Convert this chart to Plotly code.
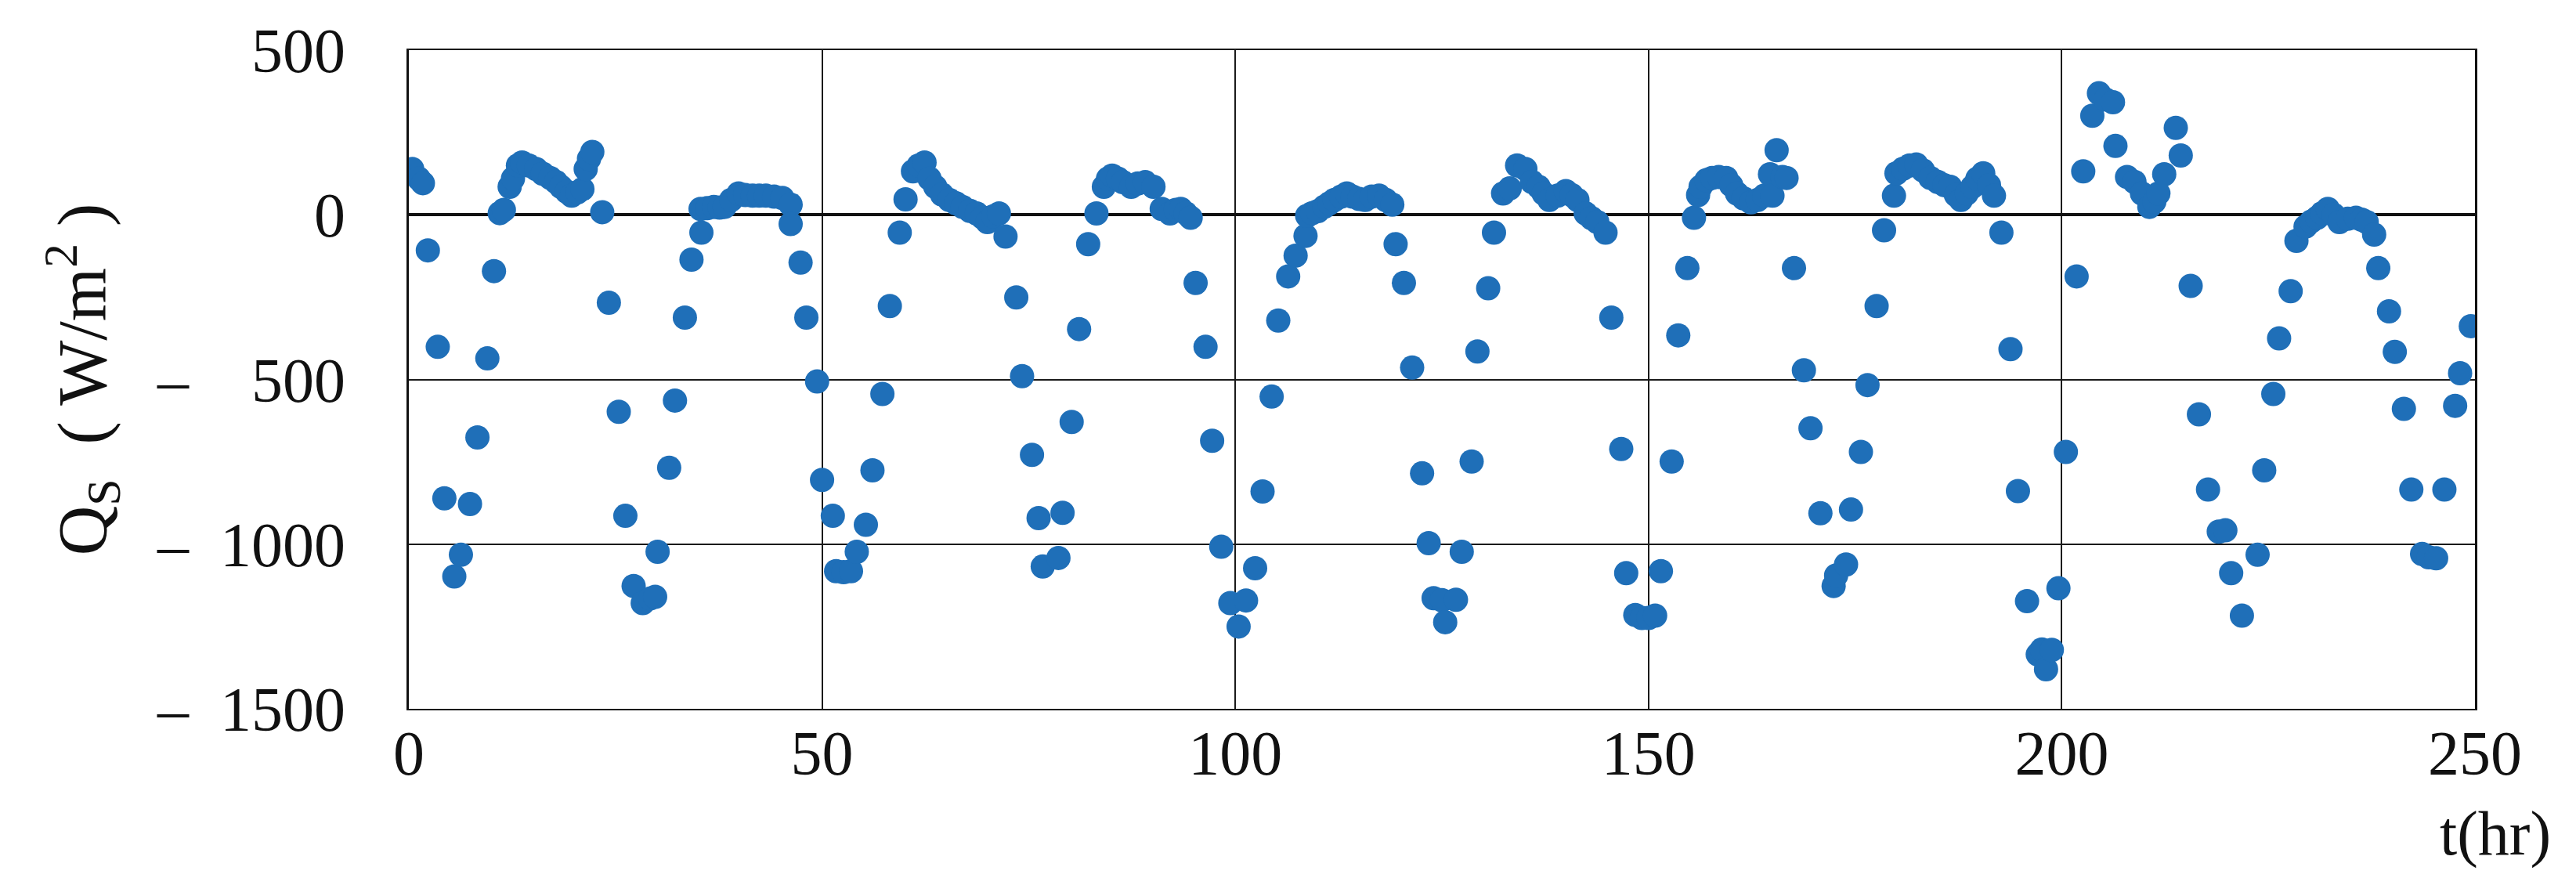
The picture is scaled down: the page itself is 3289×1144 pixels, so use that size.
import plotly.graph_objects as go

# hourly net surface heat flux
T_HR = [
    0.4, 1.2, 1.7, 2.3, 3.5, 4.3, 5.5, 6.3, 7.4, 8.3, 9.5, 10.3, 11.0, 11.5, 12.2, 12.6,
    13.2, 13.7, 14.5, 15.4, 16.2, 17.1, 17.8, 18.4, 19.1, 19.7, 20.4, 21.0, 21.4, 21.8,
    22.2, 23.4, 24.2, 25.4, 26.2, 27.2, 28.3, 29.2, 29.8, 30.1, 31.5, 32.2, 33.4, 34.2,
    35.4, 35.3, 36.1, 36.9, 37.6, 38.2, 39.0, 39.9, 40.7, 41.6, 42.4, 43.2, 44.2, 45.2,
    46.2, 46.2, 47.4, 48.1, 49.4,
    50.0, 51.3, 51.7, 52.6, 53.5, 54.2, 55.3, 56.1, 57.3, 58.2, 59.4, 60.1, 61.0, 61.7,
    62.4, 63.0, 63.7, 64.5, 65.4, 66.2, 67.0, 67.9, 68.7, 69.4, 70.0, 70.7, 71.4, 72.2,
    73.5, 74.2, 75.4, 76.2, 76.7, 78.6, 79.1, 80.2, 81.1, 82.2, 83.2, 84.1, 84.6, 85.1,
    85.8, 86.4, 87.4, 88.2, 89.1, 90.1, 91.1, 92.1, 92.8, 93.4, 94.0, 94.6, 95.2, 96.4,
    97.2, 98.3, 99.4,
    100.4, 101.3, 102.4, 103.3, 104.4, 105.2, 106.4, 107.3, 108.5, 108.7, 109.3, 110.0,
    110.8, 111.4, 112.0, 112.8, 113.5, 114.2, 115.0, 115.7, 116.5, 117.4, 118.2, 119.0,
    119.4, 120.4, 121.4, 122.6, 123.4, 124.0, 125.0, 125.4, 126.7, 127.4, 128.6, 129.3,
    130.6, 131.3, 132.4, 133.2, 134.1, 135.1, 135.9, 136.7, 137.3, 138.0, 139.0, 140.0,
    140.7, 141.4, 142.4, 143.1, 143.8, 144.8, 145.5, 146.7, 147.3, 148.4, 149.2,
    150.0, 150.8, 151.5, 152.8, 153.6, 154.7, 155.5, 156.0, 156.3, 157.0, 157.7, 158.5,
    159.4, 160.0, 160.7, 161.5, 162.4, 163.2, 164.0, 164.7, 165.0, 165.5, 166.2, 166.7,
    167.6, 168.8, 169.6, 170.8, 172.4, 172.7, 173.9, 174.5, 175.7, 176.5, 177.6, 178.5,
    179.7, 180.0, 180.8, 181.6, 182.4, 183.2, 184.1, 185.0, 185.8, 186.5, 187.2, 187.8,
    188.5, 189.2, 189.8, 190.5, 191.2, 191.8, 192.7, 193.8, 194.7, 195.8, 197.1, 197.6,
    198.1, 198.8, 199.6,
    200.5, 201.8, 202.6, 203.7, 204.5, 205.3, 206.2, 206.5, 207.9, 208.8, 209.7, 210.6,
    211.2, 211.7, 212.4, 213.8, 214.4, 215.6, 216.6, 217.7, 219.0, 219.8, 220.5, 221.8,
    223.7, 224.5, 225.6, 226.3, 227.7, 228.4, 229.5, 230.2, 230.9, 231.5, 232.2, 232.9,
    233.6, 234.6, 235.6, 236.3, 236.9, 237.8, 238.3, 239.6, 240.3, 241.4, 242.3, 243.6,
    244.4, 245.3, 246.3, 247.6, 248.2, 249.5,
]
Q_S = [
    139, 110, 96, -108, -401, -861, -1098, -1032, -878, -676, -436, -171, 5, 15, 85, 110,
    150, 159, 150, 139, 125, 112, 100, 85, 70, 58, 68, 78, 139, 170,
    191, 8, -267, -598, -914, -1127, -1179, -1165, -1160, -1023, -768, -564, -312, -136,
    -54, 18, 20, 24, 22, 24, 45, 65, 60, 58, 58, 58, 55, 51,
    31, -28, -145, -312, -506,
    -805, -914, -1082, -1085, -1082, -1023, -941, -776, -544, -277, -54, 47, 132, 150,
    159, 110, 85, 62, 45, 35, 24, 12, 4, -8, -22, -5, 4, -66,
    -251, -490, -729, -921, -1068, -1042, -905, -629, -347, -89, 4, 85, 110, 119,
    110, 99, 85, 95, 99, 85, 18, 4, 15, 18, 5, -9, -207, -401,
    -686, -1008, -1179,
    -1250, -1171, -1073, -840, -552, -321, -187, -124, -64, -3, 5, 11,
    25, 35, 45, 55, 65, 55, 48, 45, 55, 58, 45, 31,
    -89, -207, -464, -785, -997, -1164, -1170, -1237, -1169, -1023, -749, -415,
    -223, -54, 65, 80, 150, 139, 100, 85, 65, 45, 58, 72,
    60, 45, 4, -10, -22, -54, -312, -711, -1088, -1215, -1224,
    -1224, -1217, -1082, -749, -366, -162, -9, 60, 85, 105, 112, 115,
    112, 90, 65, 50, 38, 45, 58, 123, 58, 196, 115, 112,
    -162, -472, -648, -906, -1127, -1095, -1062, -895, -720, -517, -277, -47,
    58, 126, 140, 150, 153, 135, 112, 100, 90, 85, 60, 45,
    65, 85, 110, 126, 90, 58, -54, -408, -839, -1173, -1335, -1320,
    -1380, -1321, -1134,
    -720, -187, 132, 301, 369, 350, 342, 209, 115, 100, 65, 24,
    40, 65, 123, 264, 180, -216, -606, -834, -962, -958, -1088, -1217,
    -1032, -776, -544, -375, -232, -79, -36, -20, -9, 5, 18, 0,
    -22, -12, -9, -15, -22, -60, -162, -293, -416, -589, -834, -1030,
    -1040, -1043, -834, -580, -481, -338,
]

X_TICKS = [0, 50, 100, 150, 200, 250]
Y_TICKS = [500, 0, -500, -1000, -1500]
Y_TICK_TEXT = ["500", "0", "\u2013\u2002\u2002500", "\u2013\u20021000", "\u2013\u20021500"]

SERIF = "Liberation Serif, Times New Roman, serif"
DOT_BLUE = "#1f6fb8"


def build_figure() -> go.Figure:
    fig = go.Figure()
    fig.add_trace(
        go.Scatter(
            x=T_HR,
            y=Q_S,
            mode="markers",
            marker=dict(color=DOT_BLUE, size=31, line=dict(width=0)),
            showlegend=False,
            hovertemplate="t=%{x} hr<br>Q_S=%{y} W/m²<extra></extra>",
        )
    )

    fig.add_annotation(
        text="t(hr)",
        xref="paper",
        yref="paper",
        x=1.01,
        y=-0.19,
        xanchor="center",
        yanchor="middle",
        showarrow=False,
        font=dict(family=SERIF, size=80, color="#111111"),
    )

    fig.update_layout(
        width=3289,
        height=1144,
        autosize=False,
        margin=dict(l=514, r=137, t=56, b=247),
        plot_bgcolor="#ffffff",
        paper_bgcolor="#ffffff",
        font=dict(family=SERIF, size=78, color="#111111"),
    )
    fig.update_xaxes(
        range=[0, 250],
        tickvals=X_TICKS,
        showgrid=True,
        gridcolor="#1a1a1a",
        gridwidth=2,
        zeroline=False,
        showline=True,
        linecolor="#1a1a1a",
        linewidth=2,
        mirror=True,
        ticks="",
        ticklabelstandoff=-14,
        tickfont=dict(family=SERIF, size=80, color="#111111"),
    )
    fig.update_yaxes(
        range=[-1500, 500],
        tickvals=Y_TICKS,
        ticktext=Y_TICK_TEXT,
        showgrid=True,
        gridcolor="#1a1a1a",
        gridwidth=2,
        zeroline=True,
        zerolinecolor="#111111",
        zerolinewidth=4,
        showline=True,
        linecolor="#111111",
        linewidth=3,
        mirror=True,
        ticks="",
        ticklabelstandoff=62,
        tickfont=dict(family=SERIF, size=80, color="#111111"),
        title=dict(
            text="Q<sub>S</sub>\u00a0\u00a0( W/m<sup>2</sup> )",
            standoff=36,
            font=dict(family=SERIF, size=88, color="#111111"),
        ),
    )
    return fig


fig = build_figure()
fig.write_html("out.html")
